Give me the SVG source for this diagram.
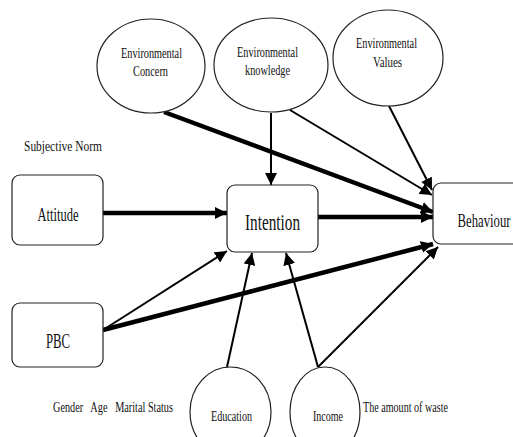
<svg xmlns="http://www.w3.org/2000/svg" width="513" height="437" viewBox="0 0 513 437">
<style>
text{font-family:"Liberation Serif","Times New Roman",serif;fill:#111;}
.node{fill:#fff;stroke:#222;stroke-width:1.2;}
.thick{stroke:#000;stroke-width:4.5;fill:none;marker-end:url(#ah);}
.thin{stroke:#000;stroke-width:2;fill:none;marker-end:url(#ah);}
</style>
<defs>
<marker id="ah" markerUnits="userSpaceOnUse" markerWidth="14" markerHeight="12" refX="12" refY="6" orient="auto">
<path d="M0,0 L12,6 L0,12 Z" fill="#000"/>
</marker>
</defs>
<rect width="513" height="437" fill="#fff"/>
<g id="connectors">
<line class="thick" x1="103" y1="213" x2="227" y2="213"/>
<line class="thick" x1="318" y1="217" x2="433" y2="217"/>
<line class="thick" x1="164" y1="112" x2="433" y2="212"/>
<line class="thin" x1="271" y1="113" x2="271" y2="185"/>
<line class="thin" x1="290" y1="110" x2="432" y2="195"/>
<line class="thin" x1="389" y1="106" x2="432" y2="190"/>
<line class="thin" x1="103" y1="330" x2="227" y2="251"/>
<line class="thick" x1="103" y1="330" x2="433" y2="244"/>
<line class="thin" x1="227" y1="367" x2="252" y2="253"/>
<line class="thin" x1="318" y1="367" x2="286" y2="253"/>
<line class="thin" x1="318" y1="367" x2="438" y2="247"/>
</g>
<g id="attitude">
<rect class="node" x="12" y="175" width="91" height="70" rx="8"/>
<text x="58" y="221" font-size="19" text-anchor="middle" textLength="41" lengthAdjust="spacingAndGlyphs">Attitude</text>
</g>
<g id="pbc">
<rect class="node" x="12" y="303" width="91" height="64" rx="8"/>
<text x="58" y="348" font-size="20" text-anchor="middle" textLength="24" lengthAdjust="spacingAndGlyphs">PBC</text>
</g>
<g id="intention">
<rect class="node" x="227" y="185" width="91" height="67" rx="8"/>
<text x="272.5" y="230" font-size="23" text-anchor="middle" textLength="55" lengthAdjust="spacingAndGlyphs">Intention</text>
</g>
<g id="behaviour">
<rect class="node" x="433" y="183" width="90" height="61" rx="8"/>
<text x="484" y="227" font-size="19" text-anchor="middle" textLength="53" lengthAdjust="spacingAndGlyphs">Behaviour</text>
</g>
<g id="env-concern">
<ellipse class="node" cx="151" cy="66" rx="54" ry="47"/>
<text x="151.5" y="58" font-size="14" text-anchor="middle" textLength="61" lengthAdjust="spacingAndGlyphs">Environmental</text>
<text x="150.5" y="76" font-size="14" text-anchor="middle" textLength="35" lengthAdjust="spacingAndGlyphs">Concern</text>
</g>
<g id="env-knowledge">
<ellipse class="node" cx="271" cy="65" rx="57" ry="47"/>
<text x="267.5" y="57" font-size="14" text-anchor="middle" textLength="61" lengthAdjust="spacingAndGlyphs">Environmental</text>
<text x="267.5" y="75" font-size="14" text-anchor="middle" textLength="45" lengthAdjust="spacingAndGlyphs">knowledge</text>
</g>
<g id="env-values">
<ellipse class="node" cx="388" cy="58" rx="55" ry="48"/>
<text x="386.5" y="48" font-size="14" text-anchor="middle" textLength="61" lengthAdjust="spacingAndGlyphs">Environmental</text>
<text x="387.5" y="67" font-size="14" text-anchor="middle" textLength="29" lengthAdjust="spacingAndGlyphs">Values</text>
</g>
<g id="education">
<ellipse class="node" cx="230.5" cy="412" rx="40.5" ry="45"/>
<text x="231.5" y="421" font-size="14" text-anchor="middle" textLength="41" lengthAdjust="spacingAndGlyphs">Education</text>
</g>
<g id="income">
<ellipse class="node" cx="325" cy="412" rx="35" ry="45"/>
<text x="328" y="421" font-size="14" text-anchor="middle" textLength="30" lengthAdjust="spacingAndGlyphs">Income</text>
</g>
<g id="labels">
<text x="24" y="151" font-size="14" textLength="78" lengthAdjust="spacingAndGlyphs">Subjective Norm</text>
<text x="53" y="412" font-size="14" textLength="120" lengthAdjust="spacingAndGlyphs" xml:space="preserve">Gender   Age   Marital Status</text>
<text x="363" y="412" font-size="14" textLength="85" lengthAdjust="spacingAndGlyphs">The amount of waste</text>
</g>
</svg>
